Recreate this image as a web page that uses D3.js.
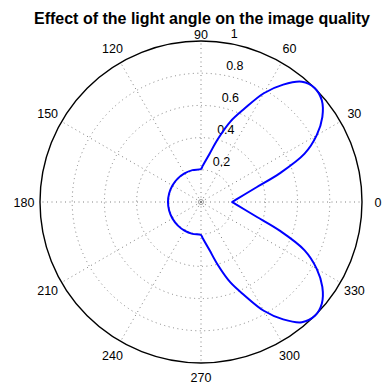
<!DOCTYPE html>
<html>
<head>
<meta charset="utf-8">
<script src="https://cdn.jsdelivr.net/npm/d3@7"></script>
<style>
  body { margin: 0; background: #fff; }
  text { font-family: "Liberation Sans", Arial, sans-serif; fill: #000; }
</style>
</head>
<body>
<div id="chart"></div>
<script>
// polar plot: light angle vs image quality

// angle in degrees (counter clockwise from east), quality value
var angles = [0, 2.5, 5, 10, 15, 20, 25, 30, 35, 40, 45, 50, 55, 60, 65, 70, 75, 80, 85, 87.5, 90,
              105, 120, 135, 150, 165, 180, 195, 210, 225, 240, 255, 270,
              272.5, 275, 280, 285, 290, 295, 300, 305, 310, 315, 320, 325, 330, 335, 340, 345, 350, 355, 357.5];
var quality = [0.193, 0.208, 0.226, 0.277, 0.36, 0.52, 0.71, 0.83, 0.92, 0.98, 1.0, 0.975, 0.89, 0.78, 0.64, 0.53, 0.405, 0.303, 0.244, 0.223, 0.205,
               0.205, 0.205, 0.205, 0.205, 0.205, 0.205, 0.205, 0.205, 0.205, 0.205, 0.205, 0.205,
               0.223, 0.244, 0.303, 0.405, 0.53, 0.64, 0.78, 0.89, 0.975, 1.0, 0.98, 0.92, 0.83, 0.71, 0.52, 0.36, 0.277, 0.226, 0.208];

var ringTicks = [0.2, 0.4, 0.6, 0.8, 1];
var spokeAngles = [0, 30, 60, 90, 120, 150, 180, 210, 240, 270, 300, 330];

var width = 383, height = 385,
    cx = 201, cy = 202, radius = 161;

var svg = d3.select("#chart").append("svg")
    .attr("width", width)
    .attr("height", height);

var g = svg.append("g")
    .attr("transform", "translate(" + cx + "," + cy + ")");

var r = d3.scaleLinear().domain([0, 1]).range([0, radius]);
var rad = function(deg) { return deg * Math.PI / 180; };

// dotted rings
g.selectAll(".ring")
    .data(ringTicks.slice(0, -1))
  .enter().append("circle")
    .attr("class", "ring")
    .attr("r", function(d) { return r(d); })
    .attr("fill", "none")
    .attr("stroke", "#808080")
    .attr("stroke-width", 1)
    .attr("stroke-dasharray", "1,3.5");

// dotted spokes
g.selectAll(".spoke")
    .data(spokeAngles)
  .enter().append("line")
    .attr("class", "spoke")
    .attr("x1", 0).attr("y1", 0)
    .attr("x2", function(d) { return r(1) * Math.cos(rad(d)); })
    .attr("y2", function(d) { return -r(1) * Math.sin(rad(d)); })
    .attr("stroke", "#808080")
    .attr("stroke-width", 1)
    .attr("stroke-dasharray", "1,3.5");

// small circle in the middle
g.append("circle")
    .attr("r", 2.5)
    .attr("fill", "none")
    .attr("stroke", "#808080")
    .attr("stroke-width", 0.8);

// outer circle
g.append("circle")
    .attr("r", r(1))
    .attr("fill", "none")
    .attr("stroke", "#000")
    .attr("stroke-width", 1.4);

// angle labels (90 sits lower under the title, 270 kept inside the page)
g.selectAll(".alabel")
    .data(spokeAngles)
  .enter().append("text")
    .attr("class", "alabel")
    .attr("x", function(d) { return r(1.1) * Math.cos(rad(d)); })
    .attr("y", function(d) { return -r(1.1) * Math.sin(rad(d)); })
    .attr("dy", function(d) { return d === 90 ? "1.1em" : d === 270 ? "0.2em" : "0.36em"; })
    .attr("text-anchor", "middle")
    .style("font-size", "12.5px")
    .text(function(d) { return d; });

// radius labels along 82 degrees
g.selectAll(".rlabel")
    .data(ringTicks)
  .enter().append("text")
    .attr("class", "rlabel")
    .attr("x", function(d) { return r(d + 0.01) * Math.cos(rad(82)) + 7; })
    .attr("y", function(d) { return -r(d + 0.01) * Math.sin(rad(82)) - 3; })
    .style("font-size", "12.5px")
    .text(function(d) { return d; });

// data curve
var line = d3.lineRadial()
    .angle(function(d, i) { return rad(90 - angles[i]); })
    .radius(function(d) { return r(d); })
    .curve(d3.curveCatmullRomClosed.alpha(0.5));

g.append("path")
    .attr("d", line(quality))
    .attr("fill", "none")
    .attr("stroke", "#0000ff")
    .attr("stroke-width", 2);

// title
svg.append("text")
    .attr("x", 202)
    .attr("y", 24)
    .attr("text-anchor", "middle")
    .style("font-size", "16px")
    .style("font-weight", "bold")
    .text("Effect of the light angle on the image quality");
</script>
</body>
</html>
